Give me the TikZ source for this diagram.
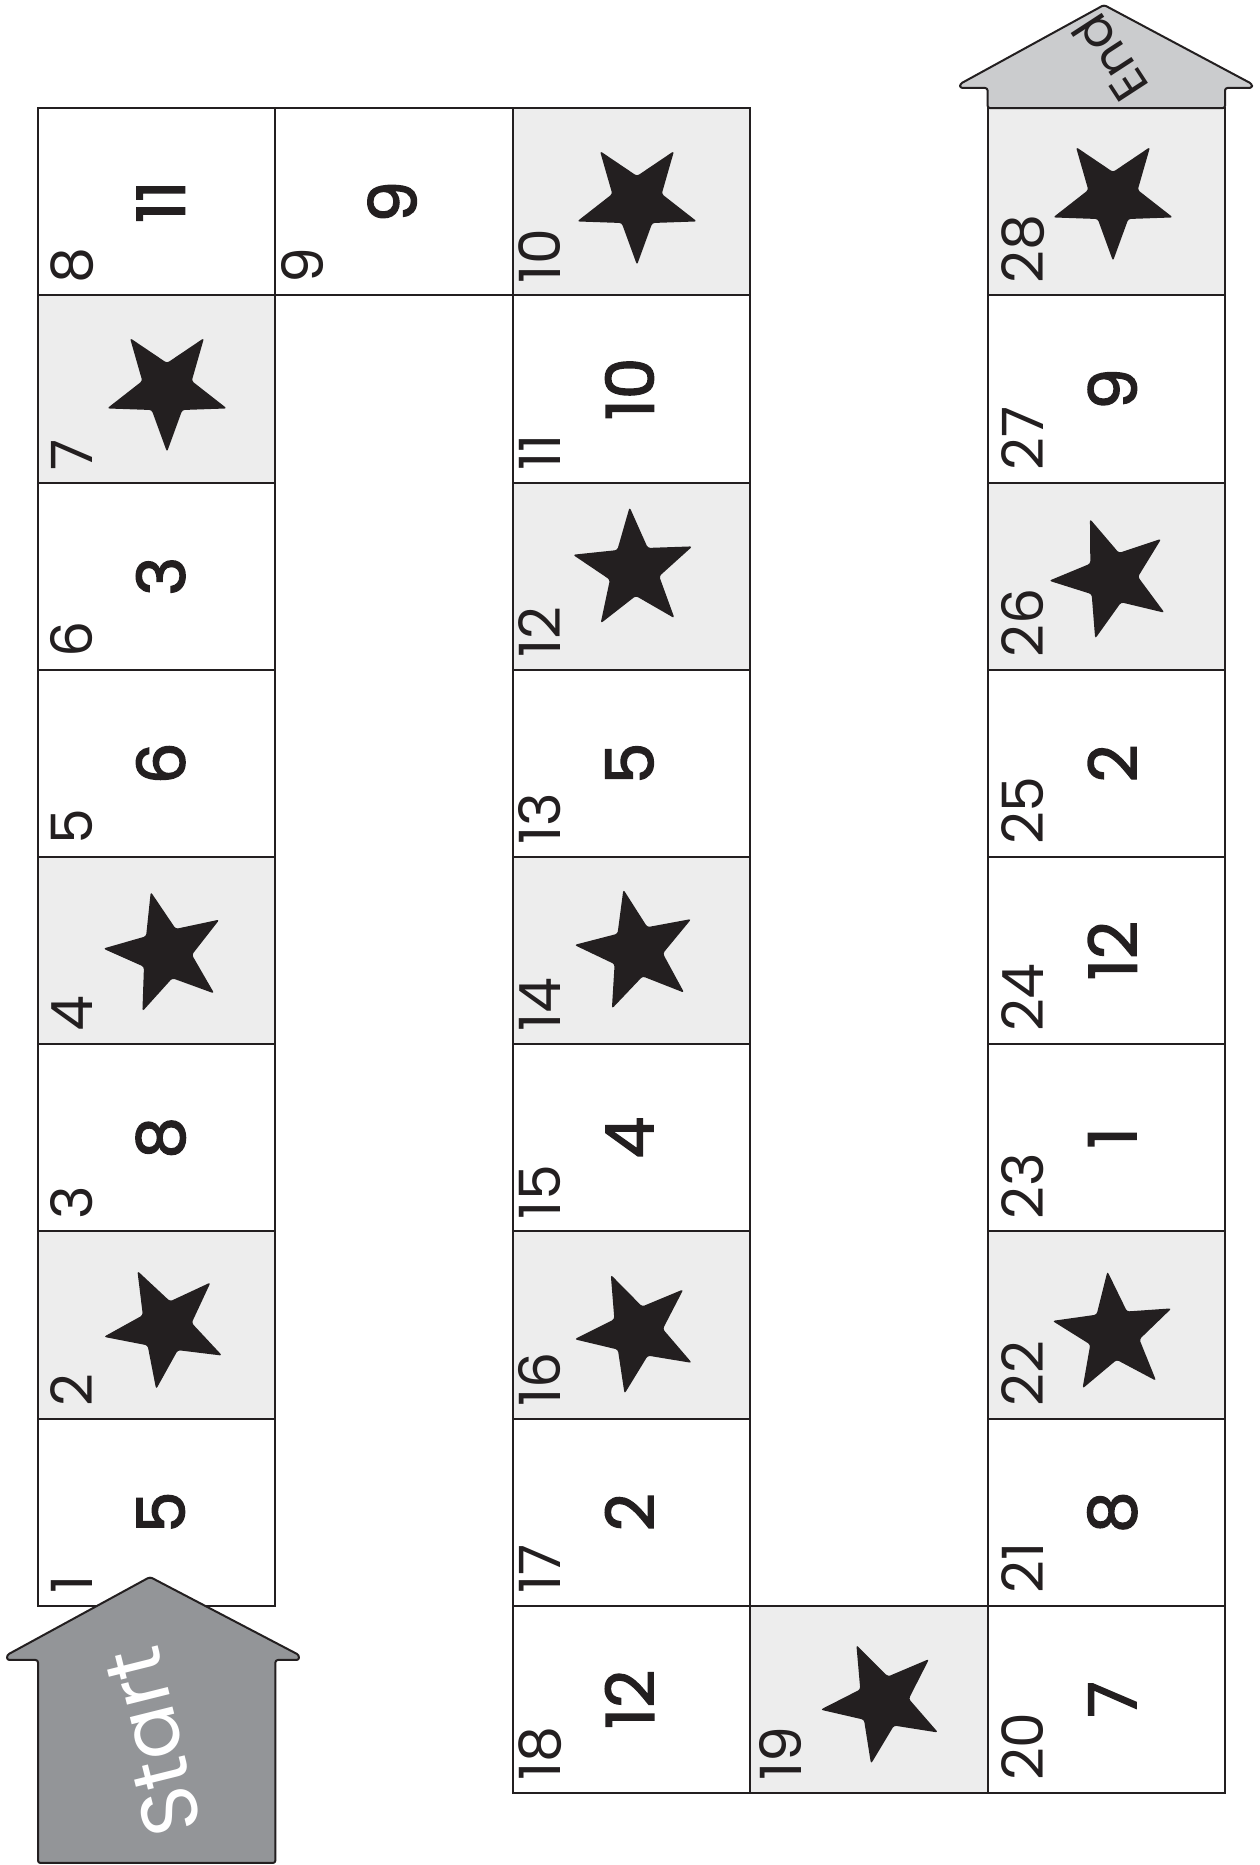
\documentclass[tikz,border=0pt]{standalone}
\usepackage{fontspec}
\setmainfont{Poppins}[Numbers=Proportional]
\newfontfamily\numfamily{Poppins}[Numbers=Proportional, FakeBold=2.2]
\definecolor{ink}{HTML}{231F20}
\definecolor{cellgray}{HTML}{EDEDED}
\definecolor{startgray}{HTML}{939598}
\definecolor{endgray}{HTML}{CBCCCE}
\newcommand\lblfont{\fontsize{57}{57}\selectfont}
\newcommand\bigfont{\numfamily\fontsize{66}{66}\selectfont}
\newcommand\boardlab[2]{\node[lbl] (l#1) at ([shift={(#2,12)}]c#1.south west) {#1};}
\newcommand\boardnum[3]{\node[bignum] (n#1) at ([xshift=#2pt]c#1.center) {#3};}
\newcommand\boardstar[4]{\fill[ink, rounded corners=2.5pt, shift={(#2,#3)}, rotate=#4-90] (90:63)--(126:26)--(162:63)--(198:26)--(234:63)--(270:26)--(306:63)--(342:26)--(18:63)--(54:26)--cycle;}
\begin{document}
\begin{tikzpicture}[x=1pt,y=1pt,
  cellbox/.style={draw=ink, line width=2pt, minimum width=237.4pt, minimum height=187.2pt, inner sep=0pt, outer sep=0pt},
  plain/.style={cellbox, fill=white},
  shaded/.style={cellbox, fill=cellgray},
  lbl/.style={rotate=90, anchor=base west, inner sep=0pt, font=\lblfont, text=ink},
  bignum/.style={rotate=90, inner sep=0pt, font=\bigfont, text=ink},
  house/.style={draw=ink, line width=2pt, rounded corners=2.5pt, line join=round}]
\useasboundingbox (0,0) rectangle (1259,1865);
\fill[white] (0,0) rectangle (1259,1865);
% left column
\node[plain]  (c1) at (156.7,352.8) {};
\node[shaded] (c2) at (156.7,540.0) {};
\node[plain]  (c3) at (156.7,727.2) {};
\node[shaded] (c4) at (156.7,914.4) {};
\node[plain]  (c5) at (156.7,1101.6) {};
\node[plain]  (c6) at (156.7,1288.8) {};
\node[shaded] (c7) at (156.7,1476.0) {};
\node[plain]  (c8) at (156.7,1663.2) {};
% top row
\node[plain]  (c9) at (394.1,1663.2) {};
% middle column
\node[shaded] (c10) at (631.5,1663.2) {};
\node[plain]  (c11) at (631.5,1476.0) {};
\node[shaded] (c12) at (631.5,1288.8) {};
\node[plain]  (c13) at (631.5,1101.6) {};
\node[shaded] (c14) at (631.5,914.4) {};
\node[plain]  (c15) at (631.5,727.2) {};
\node[shaded] (c16) at (631.5,540.0) {};
\node[plain]  (c17) at (631.5,352.8) {};
\node[plain]  (c18) at (631.5,165.6) {};
% bottom link
\node[shaded] (c19) at (868.9,165.6) {};
% right column
\node[plain]  (c20) at (1106.3,165.6) {};
\node[plain]  (c21) at (1106.3,352.8) {};
\node[shaded] (c22) at (1106.3,540.0) {};
\node[plain]  (c23) at (1106.3,727.2) {};
\node[plain]  (c24) at (1106.3,914.4) {};
\node[plain]  (c25) at (1106.3,1101.6) {};
\node[shaded] (c26) at (1106.3,1288.8) {};
\node[plain]  (c27) at (1106.3,1476.0) {};
\node[shaded] (c28) at (1106.3,1663.2) {};
% stars
\boardstar{c2}{166}{538}{117}
\boardstar{c4}{166}{912}{104}
\boardstar{c7}{167}{1476}{270}
\boardstar{c10}{637}{1663}{270}
\boardstar{c12}{634}{1295}{94}
\boardstar{c14}{637}{914}{102.5}
\boardstar{c16}{637}{533}{114.6}
\boardstar{c19}{883}{163}{115}
\boardstar{c22}{1114}{531}{96}
\boardstar{c26}{1112}{1287}{110.5}
\boardstar{c28}{1113}{1667}{270}
% labels
\boardlab{1}{54}\boardlab{2}{54}\boardlab{3}{54}\boardlab{4}{54}
\boardlab{5}{54}\boardlab{6}{54}\boardlab{7}{54}\boardlab{8}{54}
\boardlab{9}{48}
\boardlab{10}{48}\boardlab{11}{48}\boardlab{12}{48}\boardlab{13}{48}
\boardlab{14}{48}\boardlab{15}{48}\boardlab{16}{48}\boardlab{17}{48}\boardlab{18}{48}
\boardlab{19}{51}
\boardlab{20}{56}\boardlab{21}{56}\boardlab{22}{56}\boardlab{23}{56}
\boardlab{24}{56}\boardlab{25}{56}\boardlab{26}{56}\boardlab{27}{56}\boardlab{28}{56}
% numbers
\boardnum{1}{4}{5}
\boardnum{3}{4}{8}
\boardnum{5}{4}{6}
\boardnum{6}{4}{3}
\boardnum{8}{4}{11}
\boardnum{9}{-2}{9}
\boardnum{11}{-2}{10}
\boardnum{13}{-2}{5}
\boardnum{15}{-2}{4}
\boardnum{17}{-2}{2}
\boardnum{18}{-2}{12}
\boardnum{20}{6}{7}
\boardnum{21}{6}{8}
\boardnum{23}{6}{1}
\boardnum{24}{6}{12}
\boardnum{25}{6}{2}
\boardnum{27}{6}{9}
% start house
\draw[house, fill=startgray] (150,288) -- (7,210) -- (7,205) -- (38,205) -- (38,2) -- (275.4,2) -- (275.4,205) -- (299,205) -- (299,210) -- cycle;
\node[rotate=104, inner sep=0pt, text=white, font=\fontsize{80}{80}\selectfont] (start) at (153,123) {Start};
% end house
\draw[house, fill=endgray] (1104,1860) -- (960,1781) -- (960,1777) -- (987.6,1777) -- (987.6,1756.8) -- (1225,1756.8) -- (1225,1777) -- (1252,1777) -- (1252,1781) -- cycle;
\node[rotate=123, inner sep=0pt, text=ink, font=\fontsize{50}{50}\selectfont] (end) at (1110,1807) {End};
\end{tikzpicture}
\end{document}
